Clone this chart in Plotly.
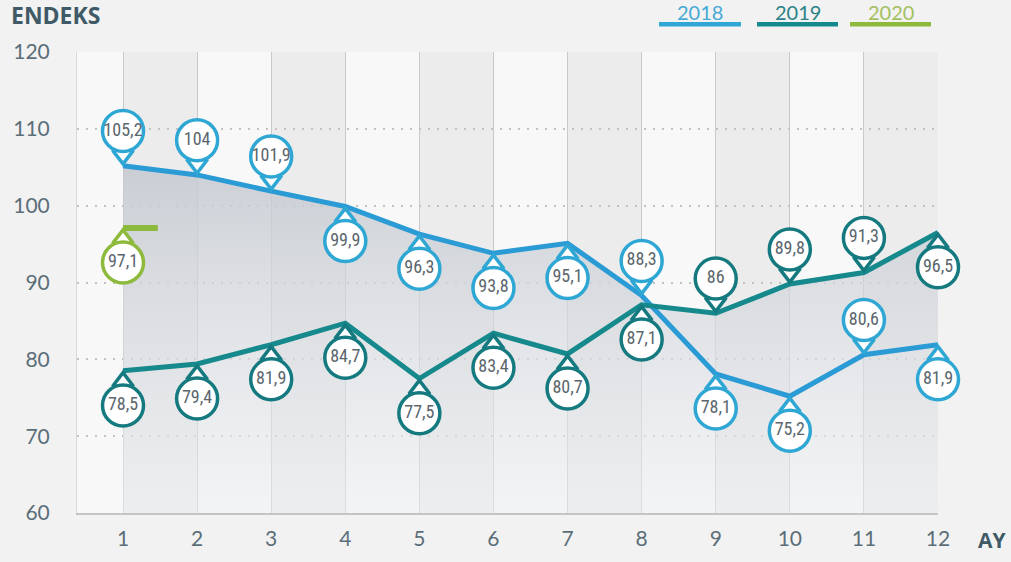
import numpy as np
import plotly.graph_objects as go

# ---------------- data ----------------
months = [1, 2, 3, 4, 5, 6, 7, 8, 9, 10, 11, 12]
idx_2018 = [105.2, 104, 101.9, 99.9, 96.3, 93.8, 95.1, 88.3, 78.1, 75.2, 80.6, 81.9]
idx_2019 = [78.5, 79.4, 81.9, 84.7, 77.5, 83.4, 80.7, 87.1, 86, 89.8, 91.3, 96.5]
months_2020 = [1]
idx_2020 = [97.1]
y_ticks = [60, 70, 80, 90, 100, 110, 120]
x_ticks = months
series_names = ["2018", "2019", "2020"]

# label side: +1 above the point, -1 below
side_2018 = [1, 1, 1, -1, -1, -1, -1, 1, -1, -1, 1, -1]
side_2019 = [-1, -1, -1, -1, -1, -1, -1, -1, 1, 1, 1, -1]
side_2020 = [-1]

# ---------------- style ----------------
W, H = 1011, 562
ML, MR, MT, MB = 77, 73, 52, 44
YMIN, YMAX = 60, 120
XMIN, XMAX = 0.379, 12
PLOT_W = W - ML - MR
PLOT_H = H - MT - MB
PX_PER_Y = PLOT_H / (YMAX - YMIN)

C18_LINE, C18_RING = "#2b9bd5", "#2fa7d4"
C19_LINE, C19_RING = "#15898c", "#157a80"
C20 = "#8dba3c"
TXT = "#5a666d"
AXIS_TXT = "#5b6e78"
PAGE_BG = "#f2f2f2"

CIRCLE_OFF = 35      # px from point to bubble centre
TIP_OFF = 11         # px from point to triangle centre
NUM_FONT = "Liberation Sans Narrow, Roboto Condensed, Roboto, sans-serif"


def to_units(px):
    return px / PX_PER_Y


def fmt(v):
    return f"{v:g}".replace(".", ",")


def px_x(p):
    return (p - ML) / PLOT_W


def px_y(p):
    return (H - MB - p) / PLOT_H


fig = go.Figure()

# ---------------- envelope fill ----------------
xs, ys = [], []
for i in range(len(months)):
    xs.append(months[i])
    ys.append(max(idx_2018[i], idx_2019[i]))
    if i < len(months) - 1:
        d0 = idx_2018[i] - idx_2019[i]
        d1 = idx_2018[i + 1] - idx_2019[i + 1]
        if d0 * d1 < 0:
            t = d0 / (d0 - d1)
            xi = months[i] + t * (months[i + 1] - months[i])
            yi = idx_2018[i] + t * (idx_2018[i + 1] - idx_2018[i])
            xs.append(xi)
            ys.append(yi)

fig.add_trace(go.Scatter(
    x=[xs[0]] + xs + [xs[-1]], y=[YMIN] + ys + [YMIN],
    mode="lines", line=dict(width=0), fill="toself",
    fillgradient=dict(type="vertical",
                      colorscale=[[0, "rgba(236,239,242,0.5)"],
                                  [1, "rgba(196,200,207,0.85)"]]),
    hoverinfo="skip", showlegend=False))

# ---------------- lines ----------------
fig.add_trace(go.Scatter(x=months, y=idx_2018, mode="lines",
                         line=dict(color=C18_LINE, width=5),
                         showlegend=False, hoverinfo="skip"))
fig.add_trace(go.Scatter(x=months, y=idx_2019, mode="lines",
                         line=dict(color=C19_LINE, width=5),
                         showlegend=False, hoverinfo="skip"))
STUB = 0.47
fig.add_trace(go.Scatter(x=[months_2020[0], months_2020[0] + STUB],
                         y=[idx_2020[0], idx_2020[0]], mode="lines",
                         line=dict(color=C20, width=6),
                         showlegend=False, hoverinfo="skip"))


# ---------------- bubbles ----------------
def bubbles(mx, vals, sides, ring):
    tip_y = [v + s * to_units(TIP_OFF) for v, s in zip(vals, sides)]
    tip_sym = ["triangle-down" if s > 0 else "triangle-up" for s in sides]
    cy = [v + s * to_units(CIRCLE_OFF) for v, s in zip(vals, sides)]
    fig.add_trace(go.Scatter(
        x=mx, y=tip_y, mode="markers",
        marker=dict(symbol=tip_sym, size=18, color="white",
                    line=dict(color=ring, width=3.5)),
        cliponaxis=False, showlegend=False, hoverinfo="skip"))
    fig.add_trace(go.Scatter(
        x=mx, y=cy, mode="markers+text",
        marker=dict(symbol="circle", size=41, color="white",
                    line=dict(color=ring, width=3.5)),
        text=[fmt(v) for v in vals], textposition="middle center",
        textfont=dict(family=NUM_FONT, size=18, color=TXT),
        cliponaxis=False, showlegend=False, hoverinfo="skip"))


bubbles(months, idx_2018, side_2018, C18_RING)
bubbles(months, idx_2019, side_2019, C19_RING)
bubbles(months_2020, idx_2020, side_2020, C20)

# ---------------- column shading ----------------
shapes = []
for k in months[:-1]:
    if k % 2 == 1:
        shapes.append(dict(type="rect", xref="x", yref="y", x0=k, x1=k + 1,
                           y0=YMIN, y1=YMAX, fillcolor="#ececec",
                           line=dict(width=0), layer="below"))

# legend bars
leg_px = [(659, 741), (757, 838), (850, 931)]
leg_cols = [C18_RING, C19_LINE, C20]
leg_txt_cols = ["#45aad6", "#2a8287", "#a3c05e"]
annotations = []
for (a, b), c, tc, name in zip(leg_px, leg_cols, leg_txt_cols, series_names):
    shapes.append(dict(type="line", xref="paper", yref="paper",
                       x0=px_x(a), x1=px_x(b), y0=px_y(24), y1=px_y(24),
                       line=dict(color=c, width=4.5)))
    annotations.append(dict(xref="paper", yref="paper", x=px_x((a + b) / 2),
                            y=px_y(12), text=name, showarrow=False,
                            xanchor="center", yanchor="middle",
                            font=dict(family="Lato, sans-serif", size=20, color=tc)))

annotations.append(dict(xref="paper", yref="paper", x=px_x(9), y=px_y(15),
                        text="<b>ENDEKS</b>", showarrow=False,
                        xanchor="left", yanchor="middle",
                        font=dict(family="Open Sans, sans-serif", size=23,
                                  color="#3f5a66")))
annotations.append(dict(xref="paper", yref="paper", x=px_x(992), y=px_y(545),
                        text="<b>AY</b>", showarrow=False,
                        xanchor="center", yanchor="middle",
                        font=dict(family="Open Sans, sans-serif", size=21,
                                  color="#3f5a66")))

fig.update_layout(
    width=W, height=H, autosize=False,
    margin=dict(l=ML, r=MR, t=MT, b=MB, pad=0),
    paper_bgcolor=PAGE_BG, plot_bgcolor="#f8f8f8",
    shapes=shapes, annotations=annotations,
    xaxis=dict(range=[XMIN, XMAX], tickvals=x_ticks,
               ticktext=[str(m) for m in x_ticks],
               showgrid=True, gridcolor="#c9c9c9", gridwidth=1,
               zeroline=False, showline=True, linecolor="#c4c4c4", linewidth=1.5,
               ticks="", ticklabelstandoff=6,
               tickfont=dict(family="Lato, sans-serif", size=21, color=AXIS_TXT)),
    yaxis=dict(range=[YMIN, YMAX], tickvals=y_ticks,
               showgrid=True, gridcolor="#c2c2c2", gridwidth=1.5,
               griddash="2px,7px", zeroline=False,
               showline=True, linecolor="#dadada", linewidth=1,
               ticks="", ticklabelstandoff=22,
               tickfont=dict(family="Lato, sans-serif", size=21, color=AXIS_TXT)),
)

fig.write_html("out.html",
               config={"displayModeBar": False},
               post_script="document.body.style.margin='0';"
                           "document.body.style.background='" + PAGE_BG + "';")
